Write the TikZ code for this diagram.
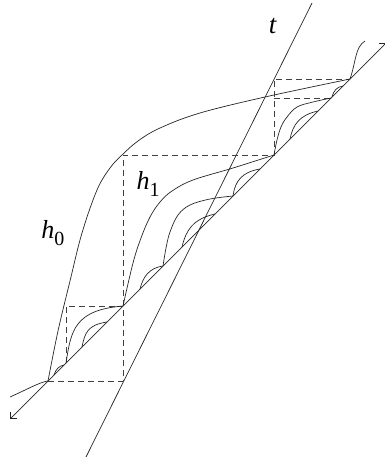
\documentclass[tikz,border=0pt]{standalone}
\usepackage{fontspec}
\setmainfont{Liberation Serif}
\usetikzlibrary{arrows.meta}
\newcommand{\hlab}[1]{\textit{h}\raisebox{-0.25em}{\fontsize{20}{22}\selectfont #1}}
\begin{document}
\begin{tikzpicture}[x=1pt,y=-1pt,line width=0.7pt,
  curve/.style={draw=black!85},
  guide/.style={draw=black!75,dash pattern=on 6pt off 4pt},
  axisline/.style={draw=black!85},
  barb/.style={{Straight Barb[length=5pt,width=10pt]}-{Straight Barb[length=5pt,width=10pt]}},
  lab/.style={font=\fontsize{26}{30}\selectfont,inner sep=0pt}]
\useasboundingbox (0,0) rectangle (385,461);
% fixed points and helper coordinates
\coordinate (A) at (48,381);
\coordinate (B) at (123,306);
\coordinate (C) at (274,155);
\coordinate (D) at (350,79);
\coordinate (P) at (66,363);
\coordinate (K1) at (123,381);
\coordinate (K2) at (66,306);
\coordinate (K3) at (123,155);
\coordinate (K4) at (274,79);
\coordinate (K5) at (274,98);
\coordinate (X) at (331,98);
\coordinate (DL) at (10,419);
\coordinate (DR) at (386,43);
\coordinate (T1) at (86,457);
\coordinate (T2) at (312,3);
\coordinate (L0) at (10,397);
\coordinate (E) at (365,41);
% diagonal and line t
\draw[axisline,barb] (DL) -- (DR);
\draw[axisline] (T1) -- (T2);
% dashed guides
\draw[guide] (A) -- (K1) -- (K3) -- (C) -- (K4) -- (D);
\draw[guide] (P) -- (K2) -- (B);
\draw[guide] (K5) -- (X);
% h0
\draw[curve] (L0) .. controls (28,389) and (40,382) .. (A);
\draw[curve] plot[smooth,tension=0.6] coordinates {(A) (58,331) (70,281) (82,233) (97,190) (110,168) (122,155) (138,141) (160,128) (200,113) (265,97) (D)};
\draw[curve] (D) .. controls (356,62) and (355,47) .. (E);
% h1
\draw[curve] plot[smooth,tension=0.6] coordinates {(B) (133,263) (141,238) (150,217) (160,202) (172,191) (193,180) (233,168) (C)};
% curves between A and B
\draw[curve] (54,375) .. controls (56,369) and (59,366) .. (64,365);
\draw[curve] (P) .. controls (71,331) and (74,310) .. (B);
\draw[curve] (82,347) .. controls (85,332) and (88,325) .. (107,322);
% curves between B and C
\draw[curve] (140,289) .. controls (143,277) and (149,268) .. (163,266);
\draw[curve] plot[smooth,tension=0.6] coordinates {(163,266) (166,248) (170,232) (178,215) (190,205) (210,199) (233,196)};
\draw[curve] (182,247) .. controls (186,230) and (193,219) .. (215,214);
\draw[curve] (233,196) .. controls (235,181) and (242,172) .. (260,169);
% curves between C and D
\draw[curve] plot[smooth,tension=0.6] coordinates {(C) (277,140) (281,127) (287,117) (297,107) (313,102) (X)};
\draw[curve] (290,139) .. controls (293,124) and (300,115) .. (318,111);
\draw[curve] (332,97) .. controls (334,90) and (337,87) .. (343,86);
% labels
\node[lab] (h0) at (53,233) {\hlab{0}};
\node[lab] (h1) at (148,184) {\hlab{1}};
\node[lab,font=\fontsize{27}{30}\selectfont] (t) at (273,26) {\textit{t}};
\end{tikzpicture}
\end{document}
